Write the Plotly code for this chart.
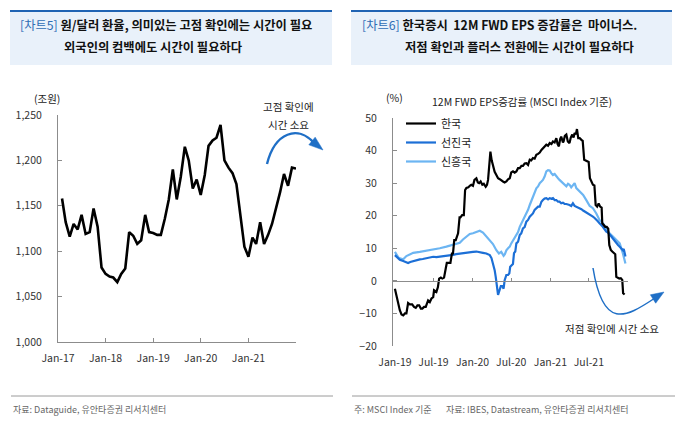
import plotly.graph_objects as go
import pandas as pd

W, H = 679, 425

# ---------------- data: chart 5 (KRW/USD monthly) ----------------
fx_start = "2017-02-01"
fx_values = [1158, 1132, 1116, 1130, 1124, 1140, 1119, 1121, 1147, 1127,
             1082, 1075, 1072, 1071, 1066, 1075, 1081, 1121, 1117, 1108,
             1112, 1140, 1121, 1120, 1118, 1118, 1136, 1157, 1190, 1157,
             1182, 1215, 1200, 1169, 1179, 1162, 1184, 1216, 1222, 1225,
             1239, 1200, 1192, 1186, 1174, 1138, 1105, 1094, 1115, 1108,
             1132, 1108, 1118, 1130, 1147, 1165, 1185, 1172, 1192, 1191]
fx_dates = pd.date_range(fx_start, periods=len(fx_values), freq="MS")
fx_ticks = ["2017-01-01", "2018-01-01", "2019-01-01", "2020-01-01", "2021-01-01", "2022-01-01"]
fx_ticktext = ["Jan-17", "Jan-18", "Jan-19", "Jan-20", "Jan-21", ""]

# ---------------- data: chart 6 (12M FWD EPS growth, %) ----------------
kor_dates = ["2019-01-01","2019-01-09","2019-01-17","2019-01-24","2019-02-01","2019-02-09","2019-02-17","2019-02-24",
             "2019-03-04","2019-03-12","2019-03-23","2019-04-01","2019-04-09","2019-04-17","2019-04-25","2019-05-03",
             "2019-05-10","2019-05-18","2019-05-26","2019-06-06","2019-06-14","2019-06-22","2019-06-30","2019-07-04",
             "2019-07-15","2019-07-22","2019-07-28","2019-08-05","2019-08-12","2019-08-20","2019-08-28","2019-09-02",
             "2019-09-08","2019-09-19","2019-09-26","2019-10-01","2019-10-07","2019-10-14","2019-10-25","2019-11-01",
             "2019-11-05","2019-11-13","2019-11-21","2019-11-27","2019-12-03","2019-12-12","2019-12-19","2019-12-26",
             "2020-01-03","2020-01-10","2020-01-19","2020-01-26","2020-02-01","2020-02-08","2020-02-16","2020-02-23",
             "2020-03-03","2020-03-09","2020-03-14","2020-03-20","2020-03-25","2020-03-31","2020-04-06","2020-04-14",
             "2020-04-22","2020-04-30","2020-05-08","2020-05-15","2020-05-23","2020-05-31","2020-06-08","2020-06-16",
             "2020-06-24","2020-07-01","2020-07-09","2020-07-17","2020-07-25","2020-08-02","2020-08-10","2020-08-18",
             "2020-08-25","2020-09-02","2020-09-10","2020-09-18","2020-09-26","2020-10-03","2020-10-11","2020-10-19",
             "2020-10-27","2020-11-04","2020-11-12","2020-11-20","2020-11-27","2020-12-05","2020-12-13","2020-12-21",
             "2020-12-29","2021-01-06","2021-01-13","2021-01-21","2021-01-29","2021-02-04","2021-02-10","2021-02-16",
             "2021-02-21","2021-03-01","2021-03-04","2021-03-10","2021-03-17","2021-03-24","2021-04-01","2021-04-07",
             "2021-04-14","2021-04-20","2021-04-25","2021-05-01","2021-05-06","2021-05-12","2021-05-19","2021-05-27",
             "2021-06-02","2021-06-09","2021-06-16","2021-06-23","2021-06-30","2021-07-06","2021-07-13","2021-07-20",
             "2021-07-27","2021-08-02","2021-08-09","2021-08-16","2021-08-23","2021-08-30","2021-09-02","2021-09-09",
             "2021-09-16","2021-09-23","2021-09-30","2021-10-05","2021-10-12","2021-10-19","2021-10-26","2021-11-02",
             "2021-11-07","2021-11-14","2021-11-21","2021-11-28","2021-12-05","2021-12-09","2021-12-16"]
kor_values = [-2.4, -4.9, -7.0, -9.0, -10.3, -10.6, -10.0, -10.0,
              -6.8, -7.2, -7.2, -8.0, -8.3, -7.5, -7.5, -8.5,
              -8.5, -8.0, -8.0, -6.0, -6.5, -5.4, -5.0, -2.9,
              -3.4, -2.0, 0.7, 1.0, 0.7, 1.0, 3.8, 5.5,
              5.5, 5.5, 8.4, 8.4, 12.5, 12.5, 14.6, 19.5,
              19.5, 20.2, 20.2, 27.9, 28.5, 28.7, 29.2, 29.5,
              29.2, 31.0, 31.5, 30.2, 30.0, 30.5, 29.5, 29.8,
              28.9, 29.5, 31.0, 37.0, 39.7, 37.0, 35.6, 33.5,
              32.5, 31.5, 31.2, 30.8, 30.5, 30.2, 30.5, 31.2,
              31.5, 33.3, 33.6, 33.2, 33.6, 34.6, 34.6, 35.3,
              35.3, 36.0, 36.1, 35.6, 37.2, 37.0, 37.7, 37.5,
              38.7, 39.0, 39.4, 40.2, 40.8, 41.2, 41.8, 41.5,
              42.3, 42.0, 42.8, 42.5, 43.8, 42.0, 41.3, 43.5,
              44.3, 42.5, 42.8, 44.5, 44.9, 42.8, 42.3, 44.0,
              44.9, 44.0, 45.4, 45.0, 46.6, 43.8, 43.8, 43.3,
              43.0, 37.2, 37.0, 36.7, 36.5, 31.5, 30.5, 29.5,
              29.3, 23.3, 22.8, 23.8, 22.8, 22.5, 17.7, 17.0,
              16.6, 16.6, 16.0, 11.0, 9.5, 9.0, 8.5, 8.2,
              1.2, 1.0, 0.7, 0.8, 0.3, -3.8, -4.2]

dm_dates = ["2019-01-01","2019-01-09","2019-01-17","2019-01-24","2019-02-09","2019-02-24","2019-03-04","2019-03-14",
            "2019-03-28","2019-04-12","2019-04-28","2019-05-12","2019-05-29","2019-06-14","2019-06-30","2019-07-15",
            "2019-07-31","2019-08-15","2019-08-31","2019-09-15","2019-10-01","2019-10-16","2019-11-02","2019-11-17",
            "2019-12-03","2019-12-19","2020-01-03","2020-01-19","2020-02-04","2020-02-19","2020-03-06","2020-03-14",
            "2020-03-22","2020-03-30","2020-04-06","2020-04-14","2020-04-19","2020-04-24","2020-04-30","2020-05-04",
            "2020-05-08","2020-05-13","2020-05-20","2020-05-26","2020-05-31","2020-06-08","2020-06-16","2020-06-22",
            "2020-06-26","2020-07-03","2020-07-09","2020-07-14","2020-07-20","2020-07-25","2020-08-02","2020-08-10",
            "2020-08-17","2020-08-25","2020-09-02","2020-09-10","2020-09-18","2020-09-26","2020-10-04","2020-10-11",
            "2020-10-19","2020-10-27","2020-11-04","2020-11-12","2020-11-20","2020-11-27","2020-12-05","2020-12-13",
            "2020-12-21","2020-12-29","2021-01-06","2021-01-13","2021-01-21","2021-01-29","2021-02-06","2021-02-13",
            "2021-02-21","2021-03-01","2021-03-09","2021-03-17","2021-03-25","2021-04-01","2021-04-09","2021-04-17",
            "2021-04-25","2021-05-03","2021-05-11","2021-05-19","2021-05-27","2021-06-04","2021-06-12","2021-06-19",
            "2021-06-27","2021-07-05","2021-07-12","2021-07-20","2021-07-28","2021-08-05","2021-08-12","2021-08-20",
            "2021-08-28","2021-09-05","2021-09-13","2021-09-21","2021-09-29","2021-10-06","2021-10-14","2021-10-22",
            "2021-10-30","2021-11-07","2021-11-15","2021-11-23","2021-12-01","2021-12-08","2021-12-12","2021-12-16",
            "2021-12-20"]
dm_values = [7.9, 7.4, 6.9, 6.5, 6.1, 5.7, 5.5, 5.8,
             6.1, 6.3, 6.6, 6.7, 6.9, 7.1, 7.4, 7.3,
             7.4, 7.5, 7.6, 7.8, 8.0, 8.2, 8.4, 8.5,
             8.6, 8.8, 8.9, 9.0, 8.9, 8.6, 8.4, 8.2,
             7.9, 7.0, 5.3, 3.3, 1.2, -1.8, -4.3, -3.5,
             -2.8, -1.6, -1.6, -2.4, 0.2, 1.8, 1.8, 2.3,
             4.3, 4.9, 5.2, 8.5, 9.0, 11.5, 12.0, 14.1,
             14.6, 16.1, 16.5, 18.2, 18.7, 19.7, 20.2, 20.7,
             21.8, 22.3, 22.8, 22.8, 24.3, 24.8, 25.3, 25.4,
             25.0, 25.4, 25.2, 25.4, 24.8, 24.8, 24.3, 24.3,
             23.8, 24.0, 23.6, 23.6, 23.3, 23.3, 23.0, 23.8,
             23.0, 22.8, 22.5, 22.3, 22.0, 21.6, 21.3, 20.9,
             20.5, 20.2, 20.0, 19.7, 19.3, 18.9, 18.3, 17.7,
             17.2, 16.6, 15.8, 15.1, 14.8, 14.4, 13.7, 13.0,
             12.2, 11.5, 11.0, 10.5, 9.8, 9.4, 9.8, 8.0,
             7.5]

em_dates = ["2019-01-01","2019-01-09","2019-01-17","2019-01-24","2019-02-09","2019-02-24","2019-03-12","2019-03-28",
            "2019-04-28","2019-05-29","2019-06-30","2019-07-31","2019-08-31","2019-10-01","2019-11-02","2019-11-17",
            "2019-12-03","2019-12-19","2020-01-03","2020-01-19","2020-02-04","2020-02-19","2020-03-06","2020-03-22",
            "2020-04-06","2020-04-22","2020-05-04","2020-05-15","2020-05-26","2020-06-01","2020-06-08","2020-06-16",
            "2020-06-24","2020-07-01","2020-07-09","2020-07-17","2020-07-25","2020-08-02","2020-08-10","2020-08-17",
            "2020-08-25","2020-09-02","2020-09-10","2020-09-18","2020-09-26","2020-10-04","2020-10-11","2020-10-19",
            "2020-10-27","2020-11-04","2020-11-12","2020-11-20","2020-11-27","2020-12-05","2020-12-13","2020-12-21",
            "2020-12-29","2021-01-06","2021-01-13","2021-01-21","2021-01-29","2021-02-06","2021-02-13","2021-02-21",
            "2021-03-01","2021-03-09","2021-03-17","2021-03-25","2021-04-01","2021-04-09","2021-04-17","2021-04-25",
            "2021-05-03","2021-05-11","2021-05-19","2021-06-04","2021-06-19","2021-07-05","2021-07-20","2021-08-05",
            "2021-08-20","2021-09-05","2021-09-21","2021-10-06","2021-10-22","2021-11-07","2021-11-23","2021-12-08",
            "2021-12-20"]
em_values = [8.9, 7.9, 7.2, 6.9, 6.6, 7.6, 8.2, 8.6,
             8.9, 9.2, 9.7, 10.0, 10.5, 11.0, 11.7, 12.7,
             13.6, 14.4, 14.6, 15.1, 15.4, 14.8, 13.6, 12.5,
             11.3, 9.4, 8.4, 8.9, 7.7, 8.2, 9.4, 10.0,
             10.5, 11.5, 12.5, 13.0, 14.1, 15.0, 16.6, 17.5,
             18.7, 19.5, 20.7, 21.8, 23.3, 24.5, 25.9, 27.0,
             28.4, 29.0, 30.0, 30.5, 31.0, 32.0, 33.6, 34.0,
             33.9, 33.0, 32.5, 32.8, 32.0, 31.5, 31.0, 30.5,
             30.0, 29.5, 29.0, 29.8, 29.5, 28.7, 29.2, 30.0,
             28.5, 27.9, 27.5, 26.4, 24.8, 23.0, 22.3, 20.7,
             18.7, 17.7, 16.1, 14.6, 13.6, 12.5, 11.5, 8.4,
             5.3]

eps_ticks = ["2019-01-01", "2019-07-01", "2020-01-01", "2020-07-01", "2021-01-01", "2021-07-01"]
eps_ticktext = ["Jan-19", "Jul-19", "Jan-20", "Jul-20", "Jan-21", "Jul-21"]
zero_ticks = ["2019-07-01", "2020-01-01", "2020-07-01", "2021-01-01", "2021-07-01", "2022-01-01"]

# ---------------- helpers (pixel -> paper) ----------------
def px(x):
    return x / W

def py(y):
    return 1 - y / H

FONT = "Noto Sans CJK KR, Noto Sans, sans-serif"
AX = "#8c8c8c"
BLUE_ARROW = "#1f6fc6"

fig = go.Figure()

fig.add_trace(go.Scatter(x=fx_dates, y=fx_values, mode="lines", xaxis="x", yaxis="y",
                         line=dict(color="#000000", width=2.6), showlegend=False))
fig.add_trace(go.Scatter(x=em_dates, y=em_values, mode="lines", xaxis="x2", yaxis="y2",
                         name="신흥국", line=dict(color="#6cb5f2", width=2.2)))
fig.add_trace(go.Scatter(x=dm_dates, y=dm_values, mode="lines", xaxis="x2", yaxis="y2",
                         name="선진국", line=dict(color="#1c6fd6", width=2.2)))
fig.add_trace(go.Scatter(x=kor_dates, y=kor_values, mode="lines", xaxis="x2", yaxis="y2",
                         name="한국", line=dict(color="#000000", width=2.2)))
fig.add_trace(go.Scatter(x=[], y=[], xaxis="x3", yaxis="y2", showlegend=False, hoverinfo="skip"))

tickfont = dict(family=FONT, size=10.5, color="#333333")

L_x0, L_x1, L_ytop, L_ybot = 58, 296, 115, 342
R_x0, R_x1, R_ytop, R_ybot = 393, 628, 118, 346
zero_pos = py(R_ybot - (R_ybot - R_ytop) * 20 / 70)

fig.update_layout(
    width=W, height=H,
    margin=dict(l=0, r=0, t=0, b=0, autoexpand=False),
    paper_bgcolor="white", plot_bgcolor="white",
    font=dict(family=FONT, color="#222222"),
    xaxis=dict(type="date", domain=[px(L_x0), px(L_x1)], anchor="y", automargin=False,
               range=["2017-01-01", "2022-01-01"],
               tickvals=fx_ticks, ticktext=fx_ticktext, tickfont=tickfont,
               showline=True, linecolor=AX, linewidth=1.2, ticks="inside", ticklen=4,
               tickcolor=AX, showgrid=False, zeroline=False, ticklabelstandoff=6),
    yaxis=dict(domain=[py(L_ybot), py(L_ytop)], anchor="x", automargin=False,
               range=[1000, 1250], dtick=50, tickformat=",", tickfont=tickfont,
               showline=True, linecolor=AX, linewidth=1.2, ticks="inside", ticklen=4,
               tickcolor=AX, showgrid=False, zeroline=False, ticklabelstandoff=13),
    xaxis2=dict(type="date", domain=[px(R_x0), px(R_x1)], anchor="y2", automargin=False,
                range=["2018-12-23", "2022-01-01"],
                tickvals=eps_ticks, ticktext=eps_ticktext, tickfont=tickfont,
                showline=False, ticks="", showgrid=False, zeroline=False, ticklabelstandoff=8),
    xaxis3=dict(type="date", overlaying="x2", anchor="free", position=zero_pos, automargin=False,
                range=["2018-12-23", "2022-01-01"], tickvals=zero_ticks,
                showticklabels=False, showline=True, linecolor=AX, linewidth=1.2,
                ticks="inside", ticklen=3, tickcolor=AX, showgrid=False, zeroline=False),
    yaxis2=dict(domain=[py(R_ybot), py(R_ytop)], anchor="x2", automargin=False,
                range=[-20, 50], dtick=10, tickfont=tickfont,
                showline=True, linecolor=AX, linewidth=1.2, ticks="inside", ticklen=4,
                tickcolor=AX, showgrid=False, zeroline=False, ticklabelstandoff=13),
    legend=dict(x=px(401), y=py(109), xanchor="left", yanchor="top",
                bgcolor="rgba(0,0,0,0)", font=dict(family=FONT, size=11, color="#222222"),
                itemwidth=30, tracegroupgap=0, traceorder="reversed"),
)

shapes = []
annotations = []

for (x0, x1) in [(10, 332), (351, 672)]:
    shapes.append(dict(type="rect", xref="paper", yref="paper", x0=px(x0), x1=px(x1),
                       y0=py(65), y1=py(11), fillcolor="#e9f1fa", line=dict(width=0), layer="below"))
    shapes.append(dict(type="line", xref="paper", yref="paper", x0=px(x0), x1=px(x1),
                       y0=py(11), y1=py(11), line=dict(color="#1f63b3", width=2)))

TBLUE = "#2f6db5"
title_font = dict(family=FONT, size=12.3, color="#111111")
annotations += [
    dict(x=px(18), y=py(25), xref="paper", yref="paper", xanchor="left", yanchor="middle",
         showarrow=False, font=title_font,
         text=f"<span style='color:{TBLUE}'>[차트5]</span> <b>원/달러 환율, 의미있는 고점 확인에는 시간이 필요</b>"),
    dict(x=px(62), y=py(47), xref="paper", yref="paper", xanchor="left", yanchor="middle",
         showarrow=False, font=title_font, text="<b>외국인의 컴백에도 시간이 필요하다</b>"),
    dict(x=px(360), y=py(25), xref="paper", yref="paper", xanchor="left", yanchor="middle",
         showarrow=False, font=title_font,
         text=f"<span style='color:{TBLUE}'>[차트6]</span> <b>한국증시  12M FWD EPS 증감률은  마이너스.</b>"),
    dict(x=px(403), y=py(47), xref="paper", yref="paper", xanchor="left", yanchor="middle",
         showarrow=False, font=title_font, text="<b>저점 확인과 플러스 전환에는 시간이 필요하다</b>"),
]

small = dict(family=FONT, size=10.5, color="#222222")
annotations += [
    dict(x=px(47), y=py(98), xref="paper", yref="paper", xanchor="center", yanchor="middle",
         showarrow=False, font=small, text="(조원)"),
    dict(x=px(288), y=py(107), xref="paper", yref="paper", xanchor="center", yanchor="middle",
         showarrow=False, font=small, text="고점 확인에"),
    dict(x=px(288), y=py(124), xref="paper", yref="paper", xanchor="center", yanchor="middle",
         showarrow=False, font=small, text="시간 소요"),
    dict(x=px(394), y=py(97), xref="paper", yref="paper", xanchor="center", yanchor="middle",
         showarrow=False, font=small, text="(%)"),
    dict(x=px(522), y=py(101), xref="paper", yref="paper", xanchor="center", yanchor="middle",
         showarrow=False, font=small, text="12M FWD EPS증감률 (MSCI Index 기준)"),
    dict(x=px(612), y=py(328), xref="paper", yref="paper", xanchor="center", yanchor="middle",
         showarrow=False, font=small, text="저점 확인에 시간 소요"),
]

foot = dict(family="Liberation Sans Narrow, Noto Sans CJK KR, sans-serif", size=9, color="#666666")
for (x0, x1) in [(11, 333), (352, 675)]:
    shapes.append(dict(type="line", xref="paper", yref="paper", x0=px(x0), x1=px(x1),
                       y0=py(396), y1=py(396), line=dict(color="#9a9a9a", width=1)))
annotations += [
    dict(x=px(11), y=py(409), xref="paper", yref="paper", xanchor="left", yanchor="middle",
         showarrow=False, font=foot, text="자료: Dataguide, 유안타증권 리서치센터"),
    dict(x=px(352), y=py(409), xref="paper", yref="paper", xanchor="left", yanchor="middle",
         showarrow=False, font=foot, text="주: MSCI Index 기준"),
    dict(x=px(444), y=py(409), xref="paper", yref="paper", xanchor="left", yanchor="middle",
         showarrow=False, font=foot, text="자료: IBES, Datastream, 유안타증권 리서치센터"),
]

def curve(p0, c1, c2, p3, width):
    path = "M {},{} C {},{} {},{} {},{}".format(px(p0[0]), py(p0[1]), px(c1[0]), py(c1[1]),
                                                 px(c2[0]), py(c2[1]), px(p3[0]), py(p3[1]))
    return dict(type="path", xref="paper", yref="paper", path=path,
                line=dict(color=BLUE_ARROW, width=width))

def head(base, tip, half):
    dx, dy = tip[0] - base[0], tip[1] - base[1]
    n = (dx * dx + dy * dy) ** 0.5
    ux, uy = -dy / n, dx / n
    a = (base[0] + ux * half, base[1] + uy * half)
    b = (base[0] - ux * half, base[1] - uy * half)
    path = "M {},{} L {},{} L {},{} Z".format(px(tip[0]), py(tip[1]), px(a[0]), py(a[1]), px(b[0]), py(b[1]))
    return dict(type="path", xref="paper", yref="paper", path=path,
                fillcolor=BLUE_ARROW, line=dict(color=BLUE_ARROW, width=0.5))

shapes.append(curve((267, 164), (275, 132), (298, 125), (314, 143), 2.4))
shapes.append(head((312, 141), (323, 150), 5))
shapes.append(curve((593, 268), (603, 330), (625, 318), (655, 298), 1.5))
shapes.append(head((653, 299), (664, 292), 5))

fig.update_layout(shapes=shapes, annotations=annotations)

fig.write_html("out.html", config={"displayModeBar": False},
               post_script="document.body.style.margin='0';document.body.style.overflow='hidden';")
